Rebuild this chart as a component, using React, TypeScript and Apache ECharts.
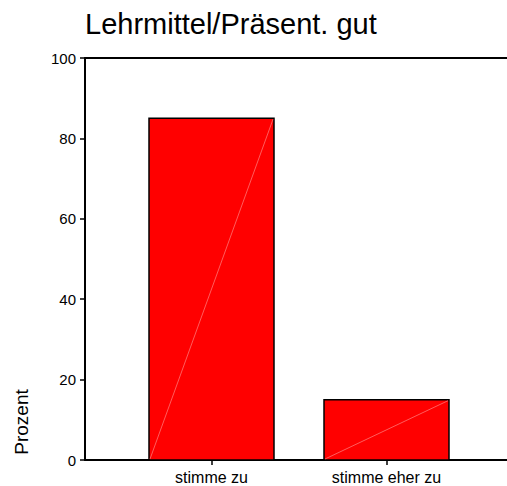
import React, { useEffect, useRef } from "react";
import * as echarts from "echarts";

const titleText = "Lehrmittel/Präsent. gut";
const yAxisName = "Prozent";
const categories = ["stimme zu", "stimme eher zu"];
const percentValues = [85, 15];
const yTicks = [0, 20, 40, 60, 80, 100];

const FONT = "'Liberation Sans', Arial, sans-serif";
const BAR_WIDTH = 125;

export default function App() {
  const ref = useRef<HTMLDivElement>(null);

  useEffect(() => {
    document.body.style.margin = "0";
    if (!ref.current) return;
    const chart = echarts.init(ref.current, undefined, { renderer: "svg" });
    const yMin = yTicks[0];
    const yMax = yTicks[yTicks.length - 1];
    const yInterval = yTicks[1] - yTicks[0];
    chart.setOption({
      animation: false,
      backgroundColor: "#ffffff",
      title: {
        text: titleText,
        left: 85,
        top: 9,
        padding: 0,
        textStyle: { fontFamily: FONT, fontSize: 29, fontWeight: "normal", color: "#000" },
      },
      graphic: [
        {
          type: "text",
          x: 21,
          y: 422,
          rotation: Math.PI / 2,
          style: {
            text: yAxisName,
            fontFamily: FONT,
            fontSize: 19,
            fill: "#000",
            align: "center",
            verticalAlign: "middle",
          },
        },
      ],
      grid: [
        { left: 85, right: 0, top: 58, bottom: 26, containLabel: false },
        { left: 124, right: 33, top: 58, bottom: 26, containLabel: false },
      ],
      xAxis: [
        {
          gridIndex: 0,
          type: "value",
          min: 0,
          max: 1,
          position: "bottom",
          axisLine: { show: true, lineStyle: { color: "#000", width: 2 } },
          axisTick: { show: false },
          axisLabel: { show: false },
          splitLine: { show: false },
        },
        {
          gridIndex: 0,
          type: "value",
          min: 0,
          max: 1,
          position: "top",
          axisLine: { show: true, onZero: false, lineStyle: { color: "#000", width: 2 } },
          axisTick: { show: false },
          axisLabel: { show: false },
          splitLine: { show: false },
        },
        {
          gridIndex: 1,
          type: "category",
          data: categories,
          position: "bottom",
          axisLine: { show: false },
          axisTick: { show: true, alignWithLabel: true, length: 5, lineStyle: { color: "#000", width: 1.5 } },
          axisLabel: { show: true, margin: 9, fontFamily: FONT, fontSize: 16, color: "#000" },
          splitLine: { show: false },
        },
      ],
      yAxis: [
        {
          gridIndex: 0,
          type: "value",
          min: yMin,
          max: yMax,
          interval: yInterval,
          axisLine: { show: true, lineStyle: { color: "#000", width: 2 } },
          axisTick: { show: true, length: 5, lineStyle: { color: "#000", width: 1.5 } },
          axisLabel: { show: true, margin: 9, fontFamily: FONT, fontSize: 15, color: "#000" },
          splitLine: { show: false },
        },
        {
          gridIndex: 1,
          type: "value",
          min: yMin,
          max: yMax,
          interval: yInterval,
          show: false,
        },
      ],
      series: [
        {
          type: "custom",
          xAxisIndex: 2,
          yAxisIndex: 1,
          data: percentValues.map((v, i) => [i, v]),
          encode: { x: 0, y: 1 },
          renderItem: (params: any, api: any) => {
            const idx = api.value(0);
            const val = api.value(1);
            const top = api.coord([idx, val]);
            const bottom = api.coord([idx, 0]);
            const x0 = top[0] - BAR_WIDTH / 2;
            const x1 = top[0] + BAR_WIDTH / 2;
            return {
              type: "group",
              children: [
                {
                  type: "rect",
                  shape: { x: x0, y: top[1], width: BAR_WIDTH, height: bottom[1] - top[1] },
                  style: { fill: "#ff0000", stroke: "#000", lineWidth: 1.5 },
                },
                {
                  type: "line",
                  shape: { x1: x0 + 1, y1: bottom[1] - 1, x2: x1 - 1, y2: top[1] + 1 },
                  style: { stroke: "#ff9a9a", lineWidth: 0.6 },
                },
              ],
            };
          },
        },
      ],
    });
    return () => chart.dispose();
  }, []);

  return <div ref={ref} style={{ width: 507, height: 486 }} />;
}
